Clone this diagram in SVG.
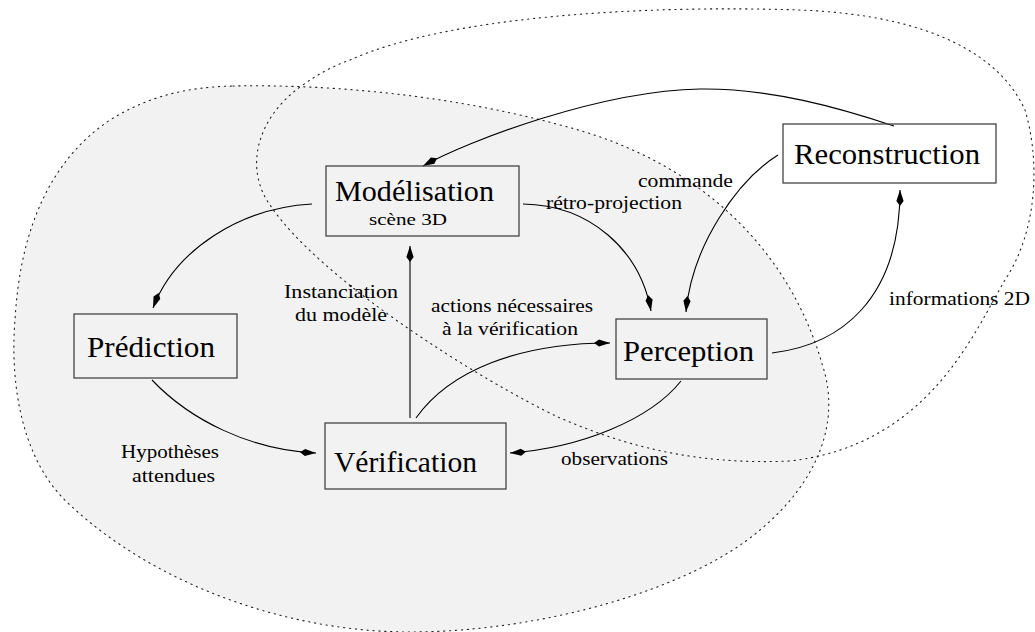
<svg xmlns="http://www.w3.org/2000/svg" width="1035" height="632" viewBox="0 0 1035 632">
<style>
.dot{fill:none;stroke:#222;stroke-width:1.1;stroke-dasharray:1.3 4.6;stroke-linecap:round}
.blob{fill:#f2f2f2;stroke:#222;stroke-width:1.1;stroke-dasharray:1.3 4.6;stroke-linecap:round}
.box{fill:none;stroke:#444;stroke-width:1.3}
.edge{fill:none;stroke:#000;stroke-width:1.1;marker-end:url(#ah)}
.big{font-family:"Liberation Serif","DejaVu Serif",serif;font-size:29px;fill:#000}
.lab{font-family:"Liberation Serif","DejaVu Serif",serif;font-size:18px;fill:#000}
</style>
<defs>
<marker id="ah" viewBox="-17 -5 18 10" refX="0" refY="0" markerWidth="18" markerHeight="10" markerUnits="userSpaceOnUse" orient="auto">
<path d="M0,0 L-11,-3.6 L-16,0 L-11,3.6 Z" fill="#000"/>
</marker>
</defs>
<g id="regions">
<path class="blob" d="M233,86 C330,84 450,95 560,125 C700,160 790,250 823,367 C840,420 820,480 760,530 C690,590 540,632 410,632 C280,632 150,580 70,505 C20,460 10,380 15,320 C20,230 50,160 110,120 C150,95 190,87 233,86 Z"/>
<path class="dot" d="M350,60 C450,15 650,5 800,10 C930,15 1000,55 1025,110 C1040,160 1038,230 1005,280 C975,330 930,445 790,461 C700,465 630,448 560,418 C480,380 320,280 270,205 C245,170 255,120 300,87 C318,74 333,66 350,60 Z"/>
</g>
<g id="connectors">
<path class="edge" d="M894,126 C840,108 770,88 700,89 C600,91 470,140 423,166"/>
<path class="edge" d="M312,204 C240,208 175,250 153,308"/>
<path class="edge" d="M523,204 C590,205 640,250 651,311"/>
<path class="edge" d="M778,155 C738,180 692,245 686,312"/>
<path class="edge" d="M772,353 C840,345 900,300 900,190"/>
<path class="edge" d="M681,381 C650,420 580,448 510,453"/>
<path class="edge" d="M416,418 C450,370 520,343 610,343"/>
<path class="edge" d="M410,418 L410,246"/>
<path class="edge" d="M152,380 C190,420 250,450 316,453"/>
</g>
<g id="node-modelisation">
<rect class="box" x="326" y="166" width="193" height="70"/>
<text class="big" x="335" y="201" textLength="159" lengthAdjust="spacingAndGlyphs">Modélisation</text>
<text class="lab" x="369" y="225" textLength="78" lengthAdjust="spacingAndGlyphs" style="font-size:17px">scène 3D</text>
</g>
<g id="node-reconstruction">
<rect class="box" x="783" y="124" width="213" height="59"/>
<text class="big" x="794" y="164" textLength="186" lengthAdjust="spacingAndGlyphs">Reconstruction</text>
</g>
<g id="node-prediction">
<rect class="box" x="74" y="314" width="163" height="64"/>
<text class="big" x="87" y="357" textLength="128" lengthAdjust="spacingAndGlyphs">Prédiction</text>
</g>
<g id="node-perception">
<rect class="box" x="616" y="319" width="151" height="60"/>
<text class="big" x="623" y="361" textLength="131" lengthAdjust="spacingAndGlyphs">Perception</text>
</g>
<g id="node-verification">
<rect class="box" x="325" y="423" width="181" height="66"/>
<text class="big" x="334" y="472" textLength="143" lengthAdjust="spacingAndGlyphs">Vérification</text>
</g>
<g id="labels">
<text class="lab" x="638" y="187" textLength="95" lengthAdjust="spacingAndGlyphs">commande</text>
<text class="lab" x="546" y="209" textLength="136" lengthAdjust="spacingAndGlyphs">rétro-projection</text>
<text class="lab" x="284" y="298" textLength="114" lengthAdjust="spacingAndGlyphs">Instanciation</text>
<text class="lab" x="295" y="321" textLength="92" lengthAdjust="spacingAndGlyphs">du modèle</text>
<text class="lab" x="431" y="312" textLength="162" lengthAdjust="spacingAndGlyphs">actions nécessaires</text>
<text class="lab" x="442" y="335" textLength="136" lengthAdjust="spacingAndGlyphs">à la vérification</text>
<text class="lab" x="121" y="458" textLength="98" lengthAdjust="spacingAndGlyphs">Hypothèses</text>
<text class="lab" x="132" y="482" textLength="83" lengthAdjust="spacingAndGlyphs">attendues</text>
<text class="lab" x="561" y="465" textLength="107" lengthAdjust="spacingAndGlyphs">observations</text>
<text class="lab" x="889" y="305" textLength="141" lengthAdjust="spacingAndGlyphs">informations 2D</text>
</g>
</svg>
